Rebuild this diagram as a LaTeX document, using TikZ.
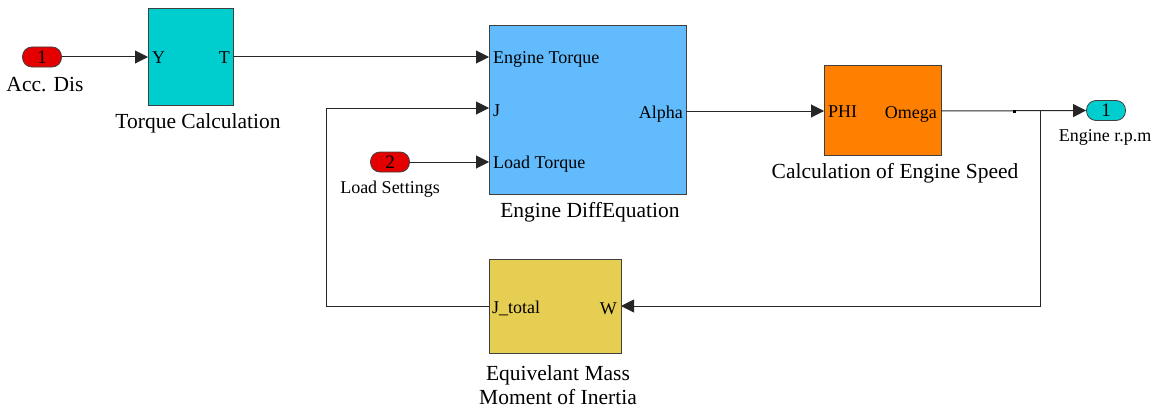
\documentclass[tikz,border=0pt]{standalone}
\usepackage{fontspec}
\setmainfont{Liberation Serif}
\usetikzlibrary{arrows.meta}
\definecolor{tccyan}{RGB}{0,206,206}
\definecolor{edblue}{RGB}{98,187,253}
\definecolor{csorange}{RGB}{255,128,0}
\definecolor{eqyellow}{RGB}{230,206,82}
\definecolor{inred}{RGB}{228,0,0}
\definecolor{bordergray}{RGB}{64,64,64}
\tikzset{
  block/.style={draw=bordergray, line width=1pt, anchor=north west, inner sep=0pt},
  inport/.style={draw=bordergray, line width=0.8pt, fill=inred, rounded corners=9.5pt, minimum width=39pt, minimum height=20pt, inner sep=0pt, font=\fontsize{19}{19}\selectfont},
  outport/.style={inport, fill=tccyan},
  plabel/.style={font=\fontsize{18}{20}\selectfont, inner sep=0pt},
  blabel/.style={font=\fontsize{21.5}{23}\selectfont, inner sep=0pt, align=center},
  slabel/.style={font=\fontsize{18}{20}\selectfont, inner sep=0pt},
  wire/.style={line width=1pt, draw=black!85},
  arr/.style={wire, -{Triangle[length=13pt,width=13pt]}}
}
\begin{document}
\begin{tikzpicture}[x=1pt,y=-1pt]
\useasboundingbox (0,0) rectangle (1158,412);
% blocks
\node[block, fill=tccyan, minimum width=85pt, minimum height=97pt] (tc) at (148,8) {};
\node[block, fill=edblue, minimum width=197pt, minimum height=169pt] (ed) at (489,25) {};
\node[block, fill=csorange, minimum width=117pt, minimum height=90pt] (cs) at (824,65) {};
\node[block, fill=eqyellow, minimum width=132pt, minimum height=94pt] (eq) at (489,259) {};
% ports
\node[inport] (in1) at (42,57) {\raisebox{-1pt}{1}};
\node[inport] (in2) at (390,162) {\raisebox{-1pt}{2}};
\node[outport] (out1) at (1106,110.5) {\raisebox{-1pt}{1}};
% port coordinates
\coordinate (tcY) at (148,57);
\coordinate (tcT) at (233,57);
\coordinate (edT) at (489,57);
\coordinate (edJ) at (489,108);
\coordinate (edL) at (489,162);
\coordinate (edA) at (686,111);
\coordinate (csP) at (824,111);
\coordinate (csO) at (941,111);
\coordinate (eqJ) at (489,306);
\coordinate (eqW) at (621,306);
\coordinate (br) at (1040,111);
\coordinate (fbL) at (326,306);
\coordinate (fbT) at (326,108);
\coordinate (fbB) at (1040,306);
% port labels
\node[plabel, anchor=west] at (152,58) {Y};
\node[plabel, anchor=east] at (230,58) {T};
\node[plabel, anchor=west] at (493,59) {Engine Torque};
\node[plabel, anchor=west] at (493,111) {J};
\node[plabel, anchor=west] at (493,164) {Load Torque};
\node[plabel, anchor=east] at (683,114) {Alpha};
\node[plabel, anchor=west] at (828,112) {PHI};
\node[plabel, anchor=east] at (937,114) {Omega};
\node[plabel, anchor=west] at (492,308) {J\_total};
\node[plabel, anchor=east] at (617,309) {W};
% block labels
\node[blabel] (tcl) at (198,123) {Torque Calculation};
\node[blabel] (edl) at (590,212) {Engine DiffEquation};
\node[blabel] (csl) at (895,173) {Calculation of Engine Speed};
\node[blabel] (eql) at (558,385) {Equivelant Mass\\[1pt]Moment of Inertia};
\node[blabel] (in1l) at (45,85) {Acc. Dis};
\node[slabel] (in2l) at (390,189) {Load Settings};
\node[slabel] (out1l) at (1105,137) {Engine r.p.m};
% connectors
\draw[arr] (in1.east) -- (tcY);
\draw[arr] (tcT) -- (edT);
\draw[arr] (in2.east) -- (edL);
\draw[arr] (eqJ) -- (fbL) -- (fbT) -- (edJ);
\draw[arr] (edA) -- (csP);
\draw[arr] (csO) -- (out1.west);
\draw[arr] (br) -- (fbB) -- (eqW);
\fill (1012.5,109.5) rectangle (1015.5,112.5);
\end{tikzpicture}
\end{document}
